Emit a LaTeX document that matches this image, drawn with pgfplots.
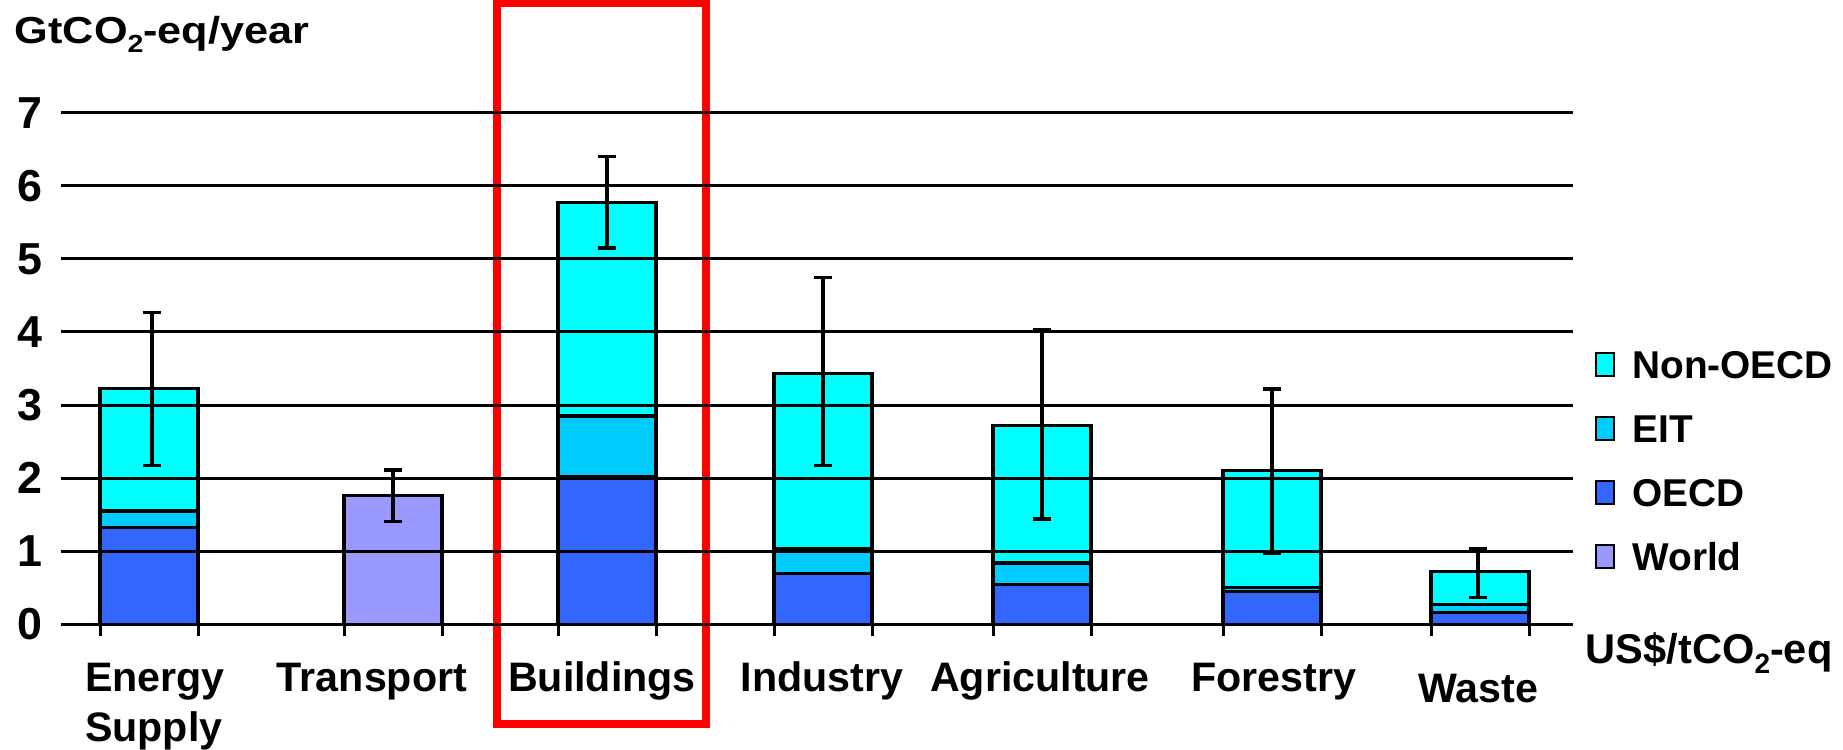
\documentclass[border=0pt]{standalone}
\usepackage{fontspec}
\setmainfont{Liberation Sans}
\usepackage{graphicx}
\usepackage{pgfplots}
\usepackage{pgfplotstable}
\pgfplotsset{compat=1.18}
\definecolor{nonoecd}{HTML}{00FFFF}
\definecolor{eit}{HTML}{00CCFF}
\definecolor{oecd}{HTML}{3366FF}
\definecolor{world}{HTML}{9999FF}
\definecolor{boxred}{HTML}{FF0000}

% cumulative tops of the stacked segments
\pgfplotstableread{
x nonoecd eit oecd
149 3.23 1.55 1.33
607 5.77 2.85 2.02
823 3.43 1.04 0.70
1042 2.72 0.84 0.55
1272 2.10 0.50 0.45
1480 0.72 0.27 0.16
}\regional
\pgfplotstableread{
x world
393 1.76
}\worldtab
\pgfplotstableread{
x lo hi
152 2.17 4.27
393 1.41 2.11
607 5.15 6.40
823 2.17 4.74
1042 1.44 4.03
1272 0.97 3.22
1478 0.37 1.04
}\errs

\begin{document}
\begin{tikzpicture}
\begin{axis}[
  scale only axis, width=378pt, height=127.9pt,
  xmin=61, xmax=1573, ymin=0, ymax=7,
  clip=false, axis on top,
  axis line style={draw=none},
  ytick={0,1,2,3,4,5,6,7},
  ymajorgrids, grid style={black, line width=0.75pt},
  major tick length=0pt,
  tick pos=left,
  /pgf/number format/assume math mode=true,
  yticklabel style={anchor=east, inner sep=0pt, xshift=-4.5pt, font=\fontsize{11.2}{13}\selectfont\bfseries},
  xtick={155,372,602,822,1040,1274,1478},
  xticklabels={{\begin{tabular}[t]{@{}l@{}}Energy\\Supply\end{tabular}}, Transport, Buildings, Industry, Agriculture, Forestry, {\raisebox{-2.75pt}{Waste}}},
  xticklabel style={anchor=base, inner sep=0pt, yshift=-16.9pt, font=\fontsize{10.3}{12.5}\selectfont\bfseries},
  extra x ticks={100,198,344,442,558,656,774,872,993,1091,1223,1321,1431,1529},
  extra x tick labels={},
  extra x tick style={major tick length=3pt, tick align=outside, major tick style={black, line width=0.75pt}, grid=none},
  legend cell align=left,
  legend style={at={(axis cs:1595,3.753)}, anchor=north west, draw=none, fill=none,
    inner sep=0pt, outer sep=0pt, row sep=9pt, /tikz/column sep=4.25pt,
    font=\fontsize{9.7}{11}\selectfont\bfseries,
    nodes={inner sep=0pt, text height=7pt, text depth=0pt}},
  mybar/.style={ybar, bar width=98, bar shift=0pt, draw=black, line width=0.8pt, fill=#1,
    legend image code/.code={\draw[##1, line width=0.6pt] (0pt,-3pt) rectangle (4.5pt,2.75pt);}},
]
\addplot[mybar=nonoecd] table[x=x, y=nonoecd] {\regional};
\addlegendentry{Non-OECD}
\addplot[mybar=eit] table[x=x, y=eit] {\regional};
\addlegendentry{EIT}
\addplot[mybar=oecd] table[x=x, y=oecd] {\regional};
\addlegendentry{OECD}
\addplot[mybar=world] table[x=x, y=world] {\worldtab};
\addlegendentry{World}

\addplot[forget plot, draw=none, mark=none,
  error bars/.cd, y dir=both, y explicit,
  error bar style={draw=black, line width=0.8pt},
  error mark options={draw=black, rotate=90, mark size=2.3pt, line width=0.8pt}]
  table[x=x, y expr={(\thisrow{lo}+\thisrow{hi})/2}, y error expr={(\thisrow{hi}-\thisrow{lo})/2}] {\errs};

\draw[boxred, line width=1.8pt] (axis cs:497,8.494) rectangle (axis cs:706,-1.364);

\node[anchor=base west, inner sep=0pt, font=\fontsize{9.4}{11}\selectfont\bfseries]
  at (axis cs:14,7.950) {\scalebox{1.15}[1]{GtCO\raisebox{-2.2pt}{\fontsize{6.2}{7}\selectfont 2}-eq/year}};
\node[anchor=base west, inner sep=0pt, font=\fontsize{10.4}{12}\selectfont\bfseries]
  at (axis cs:1585,-0.53) {US\$/tCO\raisebox{-2.5pt}{\fontsize{7}{8}\selectfont 2}-eq};

\coordinate (BL) at (axis cs:0,-1.720);
\coordinate (TR) at (axis cs:1843,8.542);
\end{axis}
\pgfresetboundingbox
\useasboundingbox (BL) rectangle (TR);
\end{tikzpicture}
\end{document}
